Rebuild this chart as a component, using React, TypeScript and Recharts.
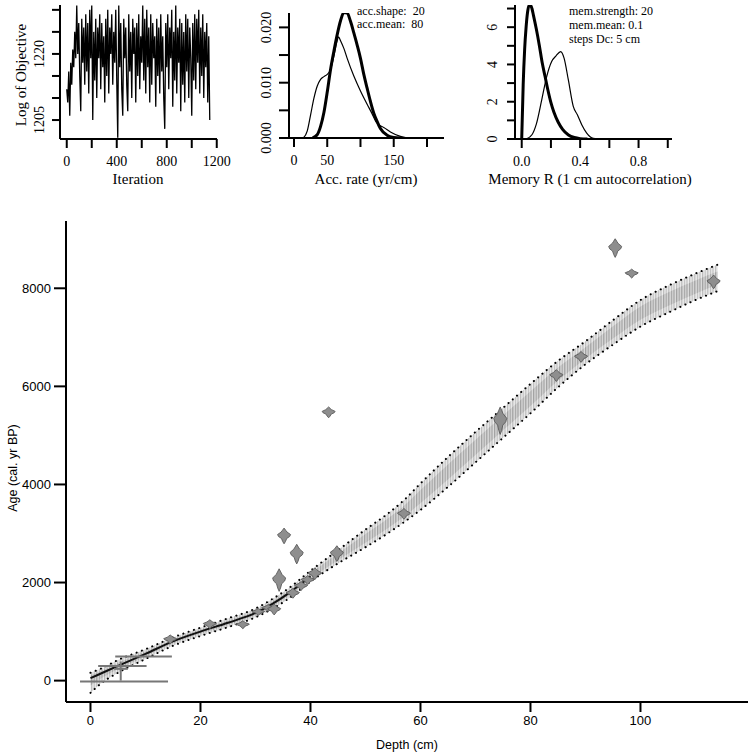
import React from 'react';
import {
  Area,
  ComposedChart,
  Line,
  LineChart,
  ReferenceLine,
  Scatter,
  XAxis,
  YAxis,
} from 'recharts';

const SERIF = '"Liberation Serif", "DejaVu Serif", "Times New Roman", serif';
const SANS = '"Liberation Sans", Arial, Helvetica, sans-serif';

// --- MCMC trace: log of objective, every 8th iteration ---
const traceStep = 8;
const traceLogObj = [
  1212, 1209, 1216, 1206, 1218, 1213, 1221, 1217, 1225, 1219,
  1231, 1220, 1227, 1215, 1207, 1228, 1218, 1226, 1213, 1229,
  1216, 1227, 1211, 1230, 1219, 1231, 1205, 1225, 1214, 1228,
  1210, 1226, 1219, 1229, 1212, 1227, 1217, 1224, 1209, 1228,
  1215, 1230, 1211, 1226, 1220, 1229, 1213, 1225, 1218, 1230,
  1214, 1201, 1231, 1217, 1227, 1212, 1206, 1228, 1219, 1226,
  1213, 1207, 1229, 1216, 1225, 1210, 1228, 1220, 1226, 1209,
  1227, 1215, 1229, 1212, 1224, 1218, 1231, 1214, 1228, 1211,
  1230, 1217, 1226, 1209, 1229, 1213, 1227, 1219, 1224, 1208,
  1228, 1215, 1226, 1211, 1229, 1216, 1224, 1210, 1203, 1227,
  1217, 1229, 1212, 1226, 1219, 1230, 1208, 1225, 1214, 1231,
  1211, 1226, 1218, 1228, 1207, 1227, 1213, 1225, 1209, 1229,
  1216, 1228, 1210, 1226, 1219, 1206, 1227, 1214, 1229, 1212,
  1228, 1218, 1230, 1211, 1226, 1215, 1229, 1210, 1225, 1217,
  1227, 1209, 1224, 1205,
];

// --- accumulation rate: prior (thick) and posterior (thin) ---
const accPriorX = [28, 35, 40, 45, 50, 55, 60, 65, 70, 75, 80, 85, 90, 95, 100, 105, 110, 115, 120, 125, 130, 140, 150, 160];
const accPrior = [0, 0.0006, 0.0021, 0.0046, 0.0083, 0.0124, 0.0157, 0.0187, 0.0212, 0.0227, 0.0226, 0.0211, 0.019, 0.0168, 0.0144, 0.0115, 0.009, 0.0066, 0.0045, 0.003, 0.0017, 0.0005, 0.0001, 0];
const accPostX = [14, 20, 25, 30, 35, 40, 45, 50, 55, 60, 65, 67, 70, 75, 80, 90, 100, 110, 117, 124, 130, 135, 145, 160, 175, 200];
const accPost = [0, 0.0013, 0.0042, 0.0072, 0.0094, 0.0106, 0.0111, 0.0115, 0.0124, 0.0148, 0.0176, 0.0183, 0.0176, 0.0162, 0.0144, 0.0112, 0.0085, 0.0061, 0.0045, 0.0028, 0.0022, 0.0019, 0.0011, 0.0003, 0, 0];

// --- memory: prior (thick) and posterior (thin) ---
const memPriorX = [0, 0.01, 0.02, 0.03, 0.04, 0.05, 0.06, 0.07, 0.08, 0.1, 0.12, 0.14, 0.16, 0.18, 0.2, 0.22, 0.25, 0.28, 0.32, 0.36, 0.4, 0.45];
const memPrior = [0, 2.9, 4.8, 6.0, 6.8, 7.15, 7.18, 7.0, 6.65, 5.9, 5.05, 4.1, 3.35, 2.6, 1.95, 1.45, 0.9, 0.52, 0.22, 0.08, 0.02, 0];
const memPostX = [0.03, 0.07, 0.1, 0.137, 0.171, 0.205, 0.235, 0.267, 0.29, 0.319, 0.353, 0.381, 0.411, 0.445, 0.49, 0.52];
const memPost = [0, 0.23, 0.8, 2.1, 3.35, 4.16, 4.46, 4.69, 4.34, 3.18, 1.75, 1.3, 0.77, 0.32, 0.03, 0];

// --- age-depth model ---
const modelDepth = [0, 2, 5, 10, 15, 20, 25, 30, 33, 36, 40, 45, 50, 54, 57, 60, 65, 70, 75, 80, 85, 90, 95, 100, 105, 110, 114];
const modelMean = [50, 150, 300, 545, 800, 1000, 1180, 1380, 1560, 1780, 2130, 2520, 2900, 3200, 3450, 3750, 4250, 4750, 5250, 5750, 6250, 6680, 7100, 7500, 7780, 8020, 8200];
const modelLo = [-250, -50, 160, 440, 710, 910, 1090, 1290, 1460, 1670, 2020, 2390, 2720, 3000, 3230, 3480, 3950, 4450, 4950, 5450, 5980, 6450, 6850, 7220, 7500, 7760, 7940];
const modelHi = [160, 250, 420, 640, 880, 1080, 1270, 1470, 1660, 1880, 2240, 2660, 3080, 3400, 3680, 4020, 4560, 5070, 5560, 6050, 6520, 6920, 7350, 7760, 8050, 8300, 8480];

// --- calibrated dates (depth cm, age cal BP, half spread yr) ---
const dateDepth = [14.5, 21.7, 27.7, 30.5, 32.3, 33.4, 34.3, 35.2, 36.8, 37.5, 38.3, 39.5, 40.8, 43.3, 44.8, 57, 74.5, 84.7, 89.2, 95.4, 98.4, 113.3];
const dateAge = [840, 1150, 1140, 1400, 1480, 1450, 2050, 2950, 1780, 2580, 1930, 2050, 2180, 5470, 2590, 3400, 5300, 6220, 6600, 8820, 8300, 8130];
const dateErr = [90, 90, 80, 70, 70, 110, 230, 160, 100, 200, 90, 90, 120, 110, 160, 110, 280, 120, 110, 190, 90, 140];

// near-surface dates drawn as bars
const barFrom = [-1.9, 1.4, 4.5, 4.3];
const barTo = [14.1, 10.2, 14.8, 6.8];
const barAge = [-20, 300, 490, 240];
const stemDepth = [5.5];
const stemFrom = [0];
const stemTo = [390];

// main plot geometry
const AGE_MIN = -436;
const AGE_MAX = 9372;
const PLOT_TOP = 221;
const PLOT_BOTTOM = 702;
const PX_PER_YEAR = (PLOT_BOTTOM - PLOT_TOP) / (AGE_MAX - AGE_MIN);

const traceData = traceLogObj.map((v, i) => ({ it: i * traceStep, v }));
const toXY = (xs: number[], ys: number[]) => xs.map((x, i) => ({ x, y: ys[i] }));

const modelData = modelDepth.map((d, i) => ({
  depth: d,
  lo: modelLo[i],
  hi: modelHi[i],
  outer: [modelLo[i], modelHi[i]],
  inner: [(modelLo[i] + modelMean[i]) / 2, (modelHi[i] + modelMean[i]) / 2],
  dark: d <= 40 ? modelMean[i] : null,
}));

const dateData = dateDepth.map((d, i) => ({ depth: d, age: dateAge[i], err: dateErr[i] }));

function DateGlyph(props: any) {
  const { cx, cy, payload } = props;
  if (cx == null || cy == null) return <g />;
  const h = payload.err * PX_PER_YEAR;
  const w = 6.5;
  const right = [
    [0, -h], [0.25 * w, -0.72 * h], [0.45 * w, -0.5 * h], [w, -0.18 * h],
    [0.85 * w, 0.08 * h], [0.4 * w, 0.32 * h], [0.22 * w, 0.7 * h], [0, h],
  ];
  const left = right.slice(1, -1).reverse().map(([x, y]) => [-x, y]);
  const pts = [...right, ...left].map(([x, y]) => `${cx + x},${cy + y}`).join(' ');
  return <polygon points={pts} fill="#8e8e8e" stroke="#5a5a5a" strokeWidth={0.9} />;
}

function SerifXTick(props: any) {
  const { x, y, payload, labels, fmt } = props;
  if (!labels.includes(payload.value)) return <g />;
  return (
    <text x={x} y={y} dy="0.75em" textAnchor="middle" fontFamily={SERIF} fontSize={14} fill="#000">
      {fmt ? fmt(payload.value) : payload.value}
    </text>
  );
}

function SerifYTick(props: any) {
  const { x, y, payload, labels, fmt } = props;
  if (!labels.includes(payload.value)) return <g />;
  return (
    <text x={x} y={y} transform={`rotate(-90 ${x} ${y})`} textAnchor="middle" fontFamily={SERIF} fontSize={14} fill="#000">
      {fmt ? fmt(payload.value) : payload.value}
    </text>
  );
}

const axisStyle = { stroke: '#000', strokeWidth: 2 };

export default function App() {
  return (
    <div style={{ position: 'absolute', left: 0, top: 0, width: 752, height: 754, background: '#fff' }}>
      {/* main age-depth plot */}
      <div style={{ position: 'absolute', left: 0, top: 0 }}>
        <ComposedChart width={752} height={754} data={modelData} margin={{ top: PLOT_TOP, right: 4, left: 8, bottom: 4 }}>
          <defs>
            <pattern id="hatchLight" width="2.6" height="6" patternUnits="userSpaceOnUse">
              <rect width="2.6" height="6" fill="#efefef" />
              <line x1="0.7" y1="0" x2="0.7" y2="6" stroke="#a9a9a9" strokeWidth="0.9" />
            </pattern>
            <pattern id="hatchDark" width="2.6" height="6" patternUnits="userSpaceOnUse">
              <rect width="2.6" height="6" fill="#dcdcdc" />
              <line x1="0.7" y1="0" x2="0.7" y2="6" stroke="#8a8a8a" strokeWidth="0.9" />
            </pattern>
          </defs>
          <XAxis
            dataKey="depth"
            type="number"
            domain={[-4.45, 119.55]}
            ticks={[0, 20, 40, 60, 80, 100]}
            interval={0}
            height={48}
            tickSize={10}
            tickMargin={4}
            axisLine={axisStyle}
            tickLine={axisStyle}
            tick={{ fill: '#000', fontSize: 13, fontFamily: SANS }}
          />
          <YAxis
            type="number"
            domain={[AGE_MIN, AGE_MAX]}
            ticks={[0, 2000, 4000, 6000, 8000]}
            interval={0}
            width={58}
            tickSize={12}
            tickMargin={3}
            allowDataOverflow
            axisLine={axisStyle}
            tickLine={axisStyle}
            tick={{ fill: '#000', fontSize: 13, fontFamily: SANS }}
          />
          <Area type="monotone" dataKey="outer" stroke="none" fill="url(#hatchLight)" fillOpacity={1} isAnimationActive={false} />
          <Area type="monotone" dataKey="inner" stroke="none" fill="url(#hatchDark)" fillOpacity={1} isAnimationActive={false} />
          <Line type="monotone" dataKey="lo" stroke="#000" strokeWidth={2} strokeDasharray="0.1 5.5" strokeLinecap="round" dot={false} isAnimationActive={false} />
          <Line type="monotone" dataKey="hi" stroke="#000" strokeWidth={2} strokeDasharray="0.1 5.5" strokeLinecap="round" dot={false} isAnimationActive={false} />
          <Line type="monotone" dataKey="dark" stroke="#111" strokeWidth={2} dot={false} connectNulls={false} isAnimationActive={false} />
          {barFrom.map((f, i) => (
            <ReferenceLine
              key={`bar${i}`}
              segment={[{ x: f, y: barAge[i] }, { x: barTo[i], y: barAge[i] }]}
              stroke="#777"
              strokeWidth={2}
              ifOverflow="visible"
            />
          ))}
          {stemDepth.map((d, i) => (
            <ReferenceLine
              key={`stem${i}`}
              segment={[{ x: d, y: stemFrom[i] }, { x: d, y: stemTo[i] }]}
              stroke="#777"
              strokeWidth={2}
              ifOverflow="visible"
            />
          ))}
          <Scatter data={dateData} dataKey="age" shape={(p: any) => <DateGlyph {...p} />} isAnimationActive={false} />
        </ComposedChart>
      </div>

      {/* trace of log objective */}
      <div style={{ position: 'absolute', left: 0, top: 0 }}>
        <LineChart width={240} height={190} data={traceData} margin={{ top: 5, right: 23, left: 10, bottom: 5 }}>
          <XAxis
            dataKey="it"
            type="number"
            domain={[-54, 1202]}
            ticks={[0, 200, 400, 600, 800, 1000, 1200]}
            interval={0}
            height={46}
            tickSize={9}
            tickMargin={7}
            axisLine={axisStyle}
            tickLine={axisStyle}
            tick={(p: any) => <SerifXTick {...p} labels={[0, 400, 800, 1200]} />}
          />
          <YAxis
            type="number"
            domain={[1200.7, 1231.1]}
            ticks={[1205, 1210, 1215, 1220, 1225, 1230]}
            interval={0}
            width={50}
            tickSize={8}
            tickMargin={8}
            allowDataOverflow
            axisLine={axisStyle}
            tickLine={axisStyle}
            tick={(p: any) => <SerifYTick {...p} labels={[1205, 1220]} />}
          />
          <Line type="linear" dataKey="v" stroke="#000" strokeWidth={1.3} dot={false} isAnimationActive={false} />
        </LineChart>
      </div>

      {/* accumulation rate */}
      <div style={{ position: 'absolute', left: 240, top: 0 }}>
        <LineChart width={220} height={190} margin={{ top: 13, right: 16, left: 9, bottom: 6 }}>
          <XAxis
            dataKey="x"
            type="number"
            domain={[-7.5, 225.6]}
            ticks={[0, 50, 100, 150, 200]}
            interval={0}
            height={46}
            tickSize={9}
            tickMargin={7}
            axisLine={axisStyle}
            tickLine={axisStyle}
            tick={(p: any) => <SerifXTick {...p} labels={[0, 50, 150]} />}
          />
          <YAxis
            type="number"
            domain={[0, 0.0226]}
            ticks={[0, 0.005, 0.01, 0.015, 0.02]}
            interval={0}
            width={40}
            tickSize={10}
            tickMargin={8}
            allowDataOverflow
            axisLine={axisStyle}
            tickLine={axisStyle}
            tick={(p: any) => <SerifYTick {...p} labels={[0, 0.01, 0.02]} fmt={(v: number) => v.toFixed(3)} />}
          />
          <Line data={toXY(accPostX, accPost)} type="monotone" dataKey="y" stroke="#000" strokeWidth={1.2} dot={false} isAnimationActive={false} />
          <Line data={toXY(accPriorX, accPrior)} type="monotone" dataKey="y" stroke="#000" strokeWidth={3} dot={false} isAnimationActive={false} />
        </LineChart>
      </div>

      {/* memory */}
      <div style={{ position: 'absolute', left: 470, top: 0 }}>
        <LineChart width={282} height={190} margin={{ top: 5, right: 80, left: 5, bottom: 5 }}>
          <XAxis
            dataKey="x"
            type="number"
            domain={[-0.046, 1.029]}
            ticks={[0, 0.2, 0.4, 0.6, 0.8, 1]}
            interval={0}
            height={46}
            tickSize={9}
            tickMargin={7}
            axisLine={axisStyle}
            tickLine={axisStyle}
            tick={(p: any) => <SerifXTick {...p} labels={[0, 0.4, 0.8]} fmt={(v: number) => v.toFixed(1)} />}
          />
          <YAxis
            type="number"
            domain={[0, 7.19]}
            ticks={[0, 1, 2, 3, 4, 5, 6, 7]}
            interval={0}
            width={40}
            tickSize={8}
            tickMargin={10}
            allowDataOverflow
            axisLine={axisStyle}
            tickLine={axisStyle}
            tick={(p: any) => <SerifYTick {...p} labels={[0, 2, 4, 6]} />}
          />
          <Line data={toXY(memPostX, memPost)} type="monotone" dataKey="y" stroke="#000" strokeWidth={1.2} dot={false} isAnimationActive={false} />
          <Line data={toXY(memPriorX, memPrior)} type="monotone" dataKey="y" stroke="#000" strokeWidth={3} dot={false} isAnimationActive={false} />
        </LineChart>
      </div>

      {/* titles and annotations */}
      <svg width={752} height={754} style={{ position: 'absolute', left: 0, top: 0, pointerEvents: 'none' }}>
        <g fontFamily={SERIF} fill="#000">
          <text x={26} y={75} transform="rotate(-90 26 75)" textAnchor="middle" fontSize={15}>Log of Objective</text>
          <text x={138} y={184} textAnchor="middle" fontSize={15}>Iteration</text>
          <text x={366} y={184} textAnchor="middle" fontSize={15}>Acc. rate (yr/cm)</text>
          <text x={590} y={184} textAnchor="middle" fontSize={15}>Memory R (1 cm autocorrelation)</text>
          <text x={357} y={15} fontSize={12} style={{ whiteSpace: 'pre' }}>acc.shape:  20</text>
          <text x={357} y={28} fontSize={12} style={{ whiteSpace: 'pre' }}>acc.mean:  80</text>
          <text x={569} y={15} fontSize={12}>mem.strength: 20</text>
          <text x={569} y={29} fontSize={12}>mem.mean: 0.1</text>
          <text x={569} y={43} fontSize={12}>steps Dc: 5 cm</text>
        </g>
        <g fontFamily={SANS} fill="#000" fontSize={12.5}>
          <text x={407} y={749} textAnchor="middle">Depth (cm)</text>
          <text x={17} y={468} transform="rotate(-90 17 468)" textAnchor="middle">Age (cal. yr BP)</text>
        </g>
      </svg>
    </div>
  );
}
